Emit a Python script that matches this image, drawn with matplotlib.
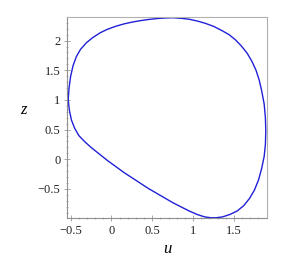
import matplotlib.pyplot as plt

# points (u, z)
u = [-0.53, -0.52, -0.50, -0.47, -0.43, -0.38, -0.31, -0.23, -0.14, -0.05, 0.05,
     0.15, 0.25, 0.35, 0.45, 0.55, 0.65, 0.75, 0.85, 0.95, 1.05, 1.15, 1.25,
     1.35, 1.44, 1.52, 1.59, 1.66, 1.72, 1.77, 1.81, 1.84, 1.87, 1.885, 1.89,
     1.885, 1.87, 1.84, 1.80, 1.75, 1.69, 1.62, 1.54, 1.45, 1.36, 1.28, 1.22,
     1.14, 1.05, 0.95, 0.85, 0.75, 0.65, 0.55, 0.45, 0.35, 0.25, 0.15, 0.05,
     -0.05, -0.15, -0.25, -0.33, -0.40, -0.45, -0.49, -0.515, -0.53]
z = [1.00, 1.20, 1.40, 1.58, 1.73, 1.85, 1.96, 2.05, 2.13, 2.19, 2.24,
     2.28, 2.31, 2.335, 2.355, 2.37, 2.38, 2.385, 2.375, 2.36, 2.33, 2.29, 2.24,
     2.17, 2.10, 2.01, 1.91, 1.79, 1.65, 1.50, 1.33, 1.15, 0.93, 0.70, 0.48,
     0.25, 0.05, -0.15, -0.35, -0.52, -0.66, -0.78, -0.87, -0.93, -0.97, -0.985, -0.985,
     -0.97, -0.93, -0.87, -0.80, -0.73, -0.65, -0.57, -0.49, -0.40, -0.31, -0.22, -0.12,
     -0.02, 0.09, 0.20, 0.30, 0.40, 0.52, 0.66, 0.82, 1.00]

xticks = [-0.5, 0, 0.5, 1, 1.5]
xlabels = ['\u22120.5', '0', '0.5', '1', '1.5']
yticks = [-0.5, 0, 0.5, 1, 1.5, 2]
ylabels = ['\u22120.5', '0', '0.5', '1', '1.5', '2']

fig = plt.figure(figsize=(2.93, 2.64), dpi=100)
ax = fig.add_axes([0.230, 0.174, 0.680, 0.760])

ax.plot(u, z, color='#2020d8', lw=1.0)

ax.set_xlim(-0.54, 1.90)
ax.set_ylim(-0.99, 2.39)

ax.set_xticks(xticks)
ax.set_xticklabels(xlabels)
ax.set_yticks(yticks)
ax.set_yticklabels(ylabels)
ax.set_xticks([i / 10 for i in range(-5, 19)], minor=True)
ax.set_yticks([i / 10 for i in range(-9, 24)], minor=True)

for lab in ax.get_xticklabels() + ax.get_yticklabels():
    lab.set_family('Liberation Serif')
    lab.set_fontsize(9)
    lab.set_color('#222222')

ax.tick_params(which='both', direction='inout', color='#999999', top=False, right=False)
ax.tick_params(which='major', length=4, width=0.6, pad=3)
ax.tick_params(which='minor', length=2, width=0.5)

for s in ax.spines.values():
    s.set_color('#b0b0b0')
    s.set_linewidth(0.8)
ax.spines['left'].set_color('#909090')
ax.spines['bottom'].set_color('#909090')

ax.set_xlabel('u', family='Liberation Serif', style='italic', fontsize=12, labelpad=3)
ax.set_ylabel('z', family='Liberation Serif', style='italic', fontsize=12, rotation=0, labelpad=10)

fig.savefig('out.png', dpi=100)
